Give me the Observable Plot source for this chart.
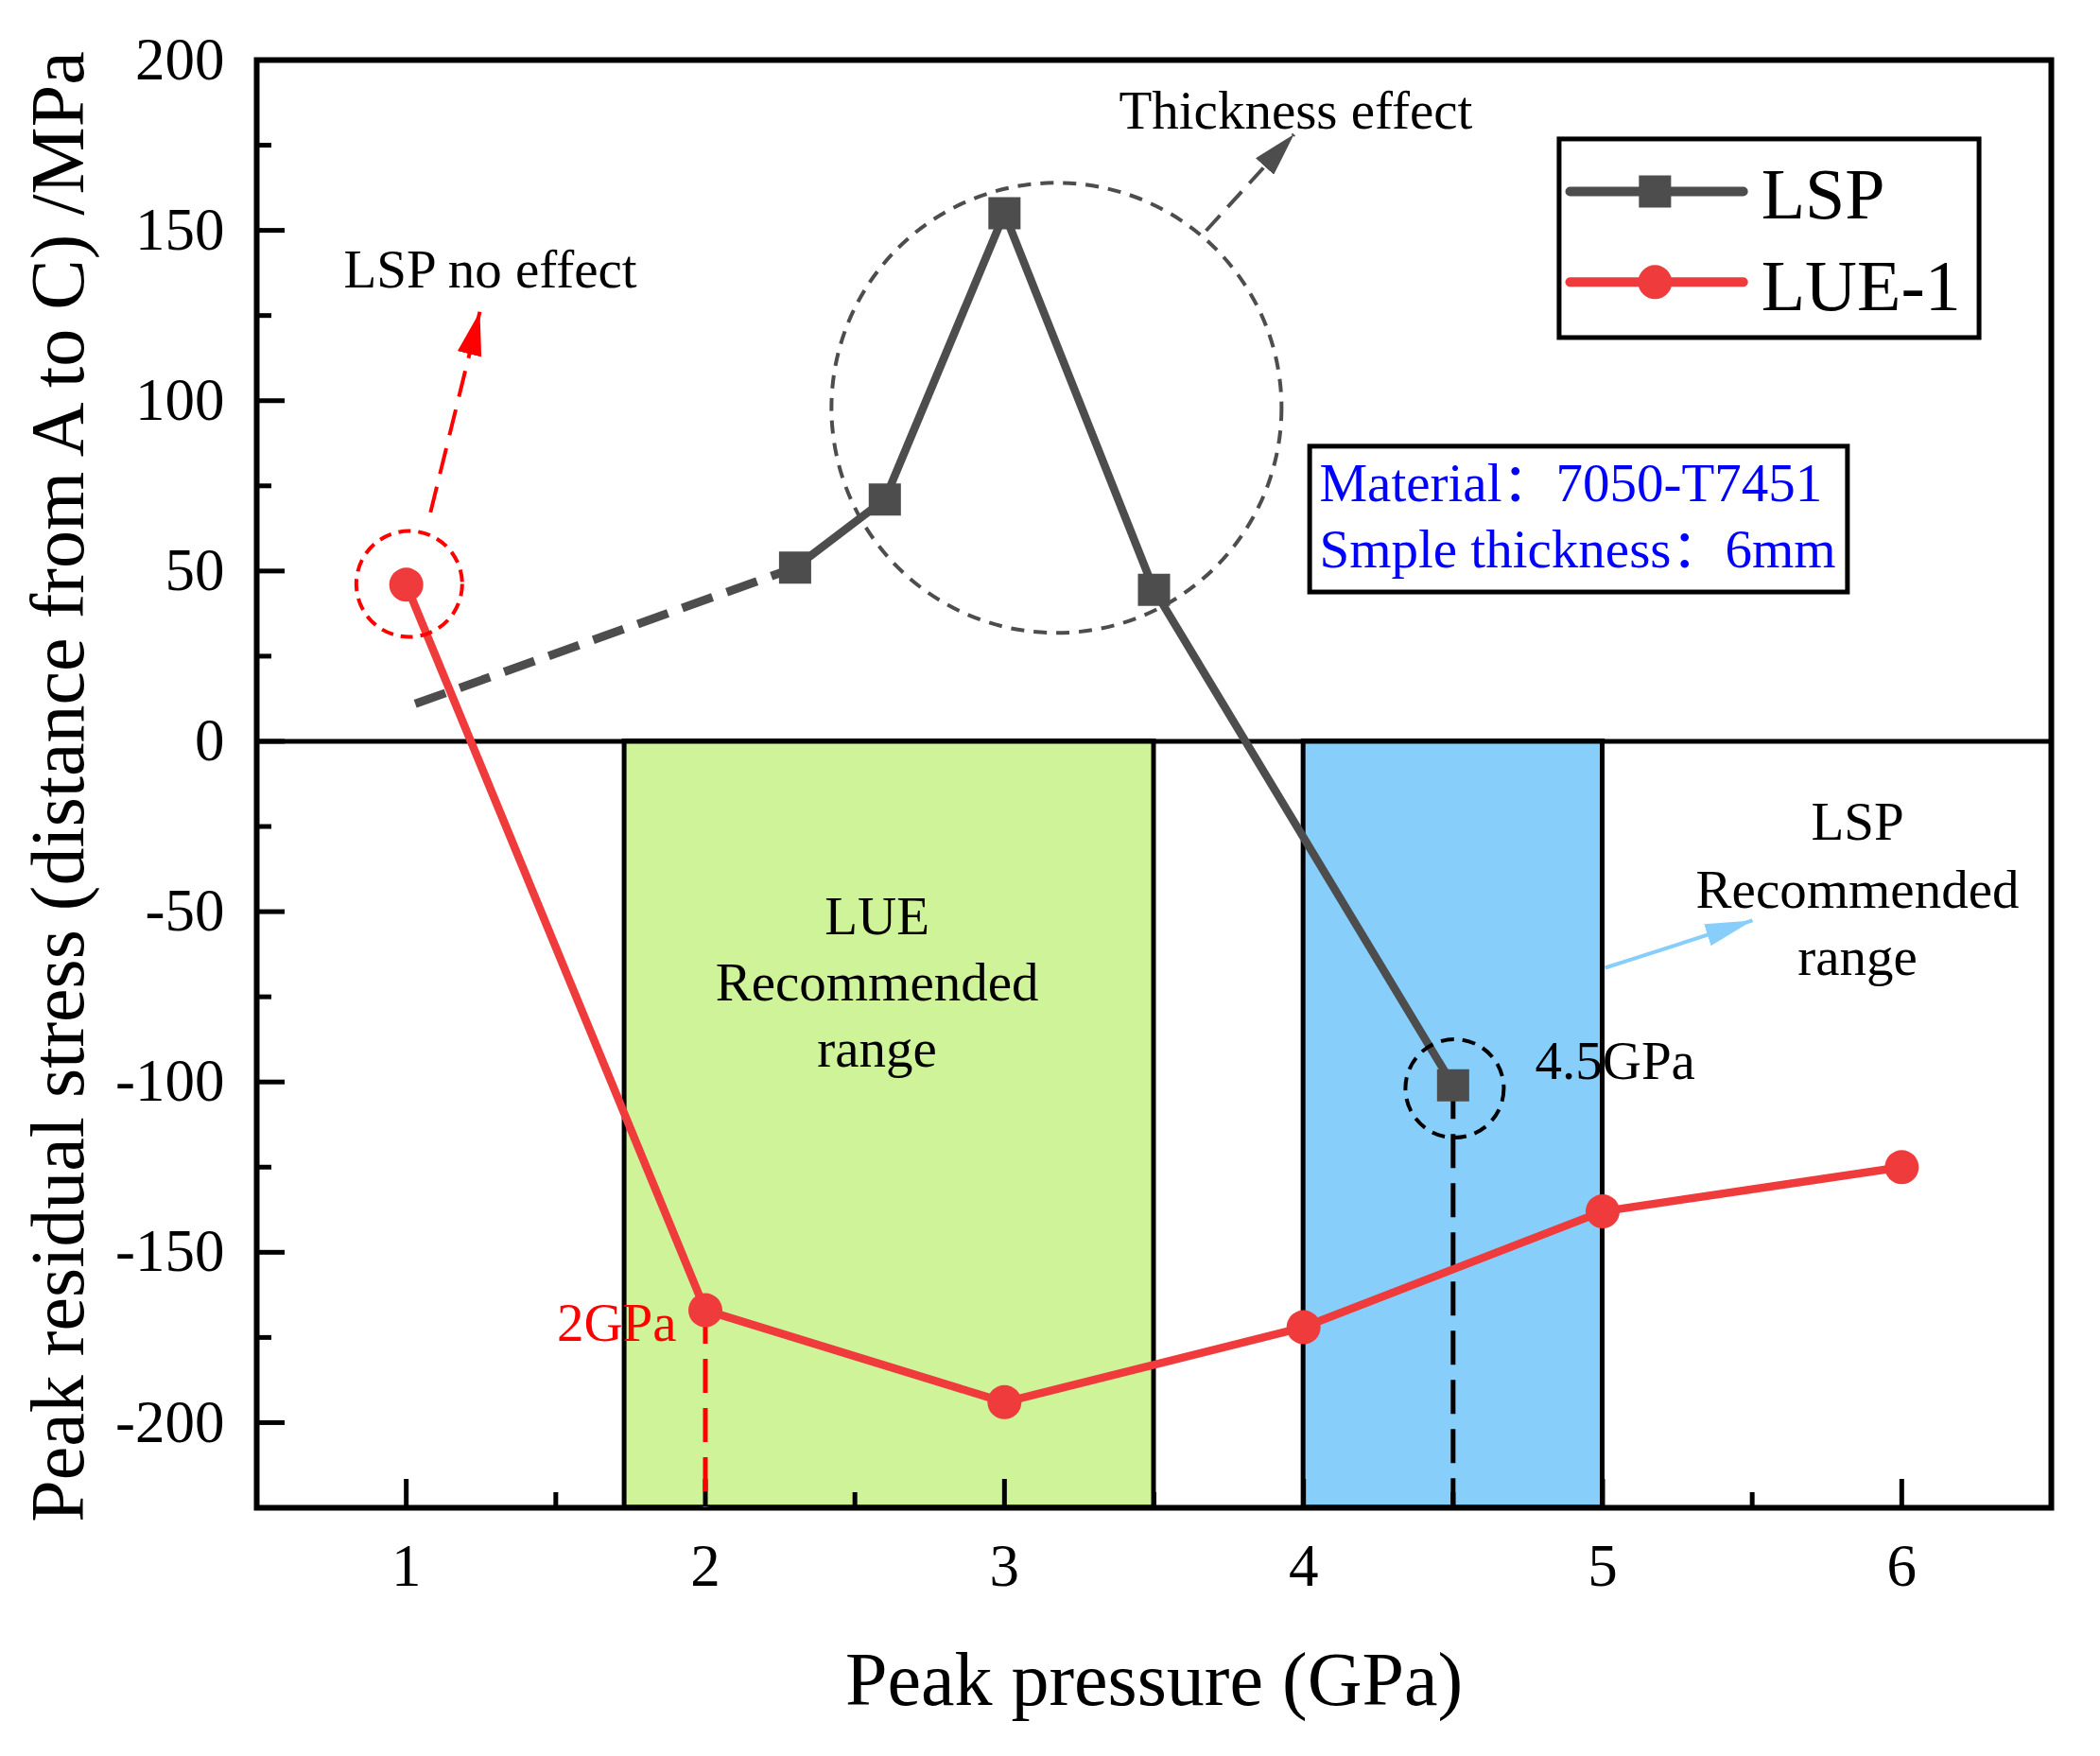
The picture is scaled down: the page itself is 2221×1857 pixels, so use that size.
<!DOCTYPE html>
<html>
<head>
<meta charset="utf-8">
<script src="https://cdn.jsdelivr.net/npm/d3@7"></script>
<script src="https://cdn.jsdelivr.net/npm/@observablehq/plot@0.6"></script>
<style>
  html, body { margin: 0; padding: 0; background: #fff; }
  #chart svg { display: block; }
</style>
</head>
<body>
<div id="chart"></div>
<script>
// ---------- data ----------
const pressure = [1, 2, 3, 4, 5, 6];
const lue1 = [46, -167, -194, -172, -138, -125];

const lspPressure = [2.3, 2.6, 3.0, 3.5, 4.5];
const lsp = [51, 71, 155, 44.5, -101];

const lspTrendPressure = [1.03, 2.3];
const lspTrend = [11, 51];

const xTicks = [1, 2, 3, 4, 5, 6];
const xMinorTicks = [1.5, 2.5, 3.5, 4.5, 5.5];
const yTicks = [-200, -150, -100, -50, 0, 50, 100, 150, 200];
const yMinorTicks = [-175, -125, -75, -25, 25, 75, 125, 175];

const lueRange = [1.73, 3.5];
const lspRange = [4, 5];

const seriesNames = ["LSP", "LUE-1"];

// annotation anchors (data coordinates)
const noteTexts = [
  {text: "LSP no effect", x: 1.281, y: 133.1, anchor: "middle", color: "black"},
  {text: "Thickness effect", x: 3.974, y: 180.0, anchor: "middle", color: "black"},
  {text: "LUE", x: 2.574, y: -56.5, anchor: "middle", color: "black"},
  {text: "Recommended", x: 2.574, y: -76.0, anchor: "middle", color: "black"},
  {text: "range", x: 2.574, y: -95.6, anchor: "middle", color: "black"},
  {text: "LSP", x: 5.852, y: -29.0, anchor: "middle", color: "black"},
  {text: "Recommended", x: 5.852, y: -48.9, anchor: "middle", color: "black"},
  {text: "range", x: 5.852, y: -68.6, anchor: "middle", color: "black"},
  {text: "4.5GPa", x: 4.774, y: -99.0, anchor: "start", color: "black"},
  {text: "2GPa", x: 1.904, y: -176.1, anchor: "end", color: "#ff0000"},
  {text: "Material：7050-T7451", x: 4.053, y: 70.4, anchor: "start", color: "#0000ff"},
  {text: "Smple thickness：6mm", x: 4.053, y: 51.0, anchor: "start", color: "#0000ff"}
];
const materialBox = {x1: 4.022, x2: 5.82, y1: 43.7, y2: 86.5};
const legendBox = {x1: 4.856, x2: 6.26, y1: 118.4, y2: 176.7};
const legendRows = [
  {name: seriesNames[0], y: 161.4, ty: 153.6, color: "#4d4d4d", symbol: "square", r: 19.2},
  {name: seriesNames[1], y: 134.8, ty: 126.7, color: "#ef3b3b", symbol: "circle", r: 18}
];
const legendLine = {x1: 4.891, x2: 5.47, xm: 5.175, tx: 5.53};

const circles = [
  {x: 1.01, y: 46.2, r: 56, color: "#ff0000", dash: "13,8"},
  {x: 3.174, y: 97.9, r: 238, color: "#4d4d4d", dash: "14,10"},
  {x: 4.505, y: -101.9, r: 52, color: "#000000", dash: "14,9"}
];
const arrows = [
  {name: "arrow-red", x1: 1.081, y1: 67.2, x2: 1.246, y2: 126.1, color: "#ff0000", dash: "28,14"},
  {name: "arrow-gray", x1: 3.674, y1: 149.9, x2: 3.968, y2: 178.2, color: "#4d4d4d", dash: "22,12"},
  {name: "arrow-blue", x1: 5.008, y1: -66.5, x2: 5.501, y2: -52.6, color: "#87cefa", dash: null}
];
const dropLines = [
  {x: 2, y1: -167, y2: -225, color: "#ff0000"},
  {x: 4.5, y1: -101, y2: -225, color: "#000000"}
];

// ---------- layout ----------
const W = 2221, H = 1857;
const mL = 271, mR = 52, mT = 63, mB = 263;
const plotW = W - mL - mR;
const plotH = H - mT - mB;
const FONT = "'Liberation Serif', 'Times New Roman', 'Noto Sans CJK SC', serif";
const gray = "#4d4d4d", red = "#ef3b3b";

const lueData = pressure.map((x, i) => ({x, y: lue1[i]}));
const lspData = lspPressure.map((x, i) => ({x, y: lsp[i]}));
const lspTrendData = lspTrendPressure.map((x, i) => ({x, y: lspTrend[i]}));

const textMarks = ["start", "middle", "end"].map(anchor =>
  Plot.text(noteTexts.filter(d => d.anchor === anchor), {
    x: "x", y: "y", text: "text", textAnchor: anchor, fill: d => d.color,
    lineAnchor: "bottom", fontSize: 57
  })
);

const chart = Plot.plot({
  width: W,
  height: H,
  marginLeft: mL, marginRight: mR, marginTop: mT, marginBottom: mB,
  style: {fontFamily: FONT, background: "#fff", color: "black"},
  x: {domain: [0.5, 6.5]},
  y: {domain: [-225, 200]},
  marks: [
    // recommended ranges
    Plot.rect([lueRange], {x1: d => d[0], x2: d => d[1], y1: -225, y2: 0, fill: "#cff399", stroke: "black", strokeWidth: 5}),
    Plot.rect([lspRange], {x1: d => d[0], x2: d => d[1], y1: -225, y2: 0, fill: "#87cefa", stroke: "black", strokeWidth: 5}),
    Plot.ruleY([0], {stroke: "black", strokeWidth: 5}),
    Plot.frame({stroke: "black", strokeWidth: 6}),
    // ticks (inward)
    Plot.tickX(xTicks, {x: d => d, insetTop: plotH - 30, stroke: "black", strokeWidth: 5}),
    Plot.tickX(xMinorTicks, {x: d => d, insetTop: plotH - 16, stroke: "black", strokeWidth: 5}),
    Plot.tickY(yTicks, {y: d => d, insetRight: plotW - 30, stroke: "black", strokeWidth: 5}),
    Plot.tickY(yMinorTicks, {y: d => d, insetRight: plotW - 16, stroke: "black", strokeWidth: 5}),
    Plot.axisX({ticks: xTicks, tickSize: 0, tickPadding: 38, fontSize: 63, label: null, tickFormat: d => String(d), fill: "black"}),
    Plot.axisY({ticks: yTicks, tickSize: 0, tickPadding: 34, fontSize: 63, label: null, tickFormat: d => String(d), fill: "black"}),
    Plot.text(["Peak pressure (GPa)"], {frameAnchor: "bottom", dy: 208, lineAnchor: "bottom", fontSize: 80, fill: "black"}),
    Plot.text(["Peak residual stress (distance from A to C) /MPa"], {frameAnchor: "left", dx: -184, dy: 3, rotate: -90, lineAnchor: "bottom", textAnchor: "middle", fontSize: 80, fill: "black"}),
    // drop lines
    Plot.ruleX(dropLines, {x: "x", y1: "y1", y2: "y2", stroke: d => d.color, strokeWidth: 5, strokeDasharray: "36,16"}),
    // data lines
    Plot.line(lspTrendData, {x: "x", y: "y", stroke: gray, strokeWidth: 9, strokeDasharray: "34,16", strokeLinecap: "butt"}),
    Plot.line(lspData, {x: "x", y: "y", stroke: gray, strokeWidth: 8.5}),
    Plot.line(lueData, {x: "x", y: "y", stroke: red, strokeWidth: 8.5}),
    Plot.dot(lspData, {x: "x", y: "y", symbol: "square", r: 19.2, fill: gray, stroke: "none"}),
    Plot.dot(lueData, {x: "x", y: "y", symbol: "circle", r: 18, fill: red, stroke: "none"}),
    // dashed circles
    ...circles.map(c => Plot.dot([c], {x: "x", y: "y", r: c.r, fill: "none", stroke: c.color, strokeWidth: 4, strokeDasharray: c.dash})),
    // arrows
    ...arrows.map(a => Plot.link([a], {x1: "x1", y1: "y1", x2: "x2", y2: "y2", stroke: a.color, strokeWidth: 4, strokeDasharray: a.dash, ariaDescription: a.name})),
    // annotation texts
    ...textMarks,
    // material box
    Plot.rect([materialBox], {x1: "x1", x2: "x2", y1: "y1", y2: "y2", fill: "none", stroke: "black", strokeWidth: 5}),
    // legend
    Plot.rect([legendBox], {x1: "x1", x2: "x2", y1: "y1", y2: "y2", fill: "white", stroke: "black", strokeWidth: 5}),
    ...legendRows.map(row => Plot.link([row], {x1: legendLine.x1, x2: legendLine.x2, y1: "y", y2: "y", stroke: row.color, strokeWidth: 10, strokeLinecap: "round"})),
    ...legendRows.map(row => Plot.dot([row], {x: legendLine.xm, y: "y", symbol: row.symbol, r: row.r, fill: row.color, stroke: "none"})),
    Plot.text(legendRows, {x: legendLine.tx, y: "ty", text: "name", textAnchor: "start", lineAnchor: "bottom", fontSize: 76, fill: "black"})
  ]
});

// filled arrowheads
const svg = d3.select(chart);
const defs = svg.insert("defs", ":first-child");
arrows.forEach(a => {
  const m = defs.append("marker")
    .attr("id", "head-" + a.name)
    .attr("viewBox", "0 -5 10 10")
    .attr("refX", 10).attr("refY", 0)
    .attr("markerUnits", "userSpaceOnUse")
    .attr("markerWidth", a.name === "arrow-blue" ? 50 : 46)
    .attr("markerHeight", a.name === "arrow-blue" ? 24 : 26)
    .attr("preserveAspectRatio", "none")
    .attr("orient", "auto");
  m.append("path").attr("d", "M0,-5L10,0L0,5Z").attr("fill", a.color).attr("stroke", "none").attr("stroke-dasharray", "none");
  svg.selectAll(`g[aria-description="${a.name}"] path`).attr("marker-end", `url(#head-${a.name})`);
});

document.getElementById("chart").appendChild(chart);
</script>
</body>
</html>
